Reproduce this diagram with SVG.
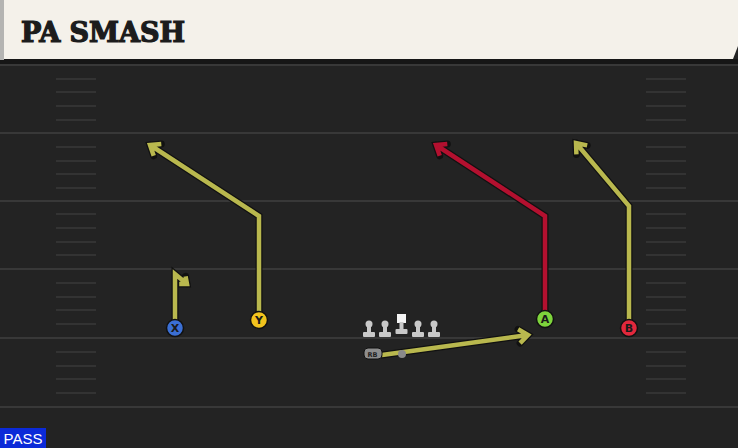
<svg xmlns="http://www.w3.org/2000/svg" width="738" height="448" viewBox="0 0 738 448">
<style>
.yl{stroke:#383838;stroke-width:2}
.hs{stroke:#333333;stroke-width:2}
.ol{fill:none;stroke:#111;stroke-width:7;stroke-linecap:round;stroke-linejoin:miter}
.ry{fill:none;stroke:#b9b84e;stroke-width:4.5;stroke-linejoin:miter}
.rr{fill:none;stroke:#b3102f;stroke-width:4.5;stroke-linejoin:miter}
.pl{stroke:#111;stroke-width:1.5}
.pt{font-family:"DejaVu Sans",sans-serif;font-weight:bold;font-size:11px;fill:#1a1a1a;text-anchor:middle}
.lm{fill:#c9c9c9}
</style>
<rect width="738" height="448" fill="#232323"/>
<g id="field">
<line class="yl" x1="0" y1="65" x2="738" y2="65"/>
<line class="yl" x1="0" y1="133" x2="738" y2="133"/>
<line class="yl" x1="0" y1="201" x2="738" y2="201"/>
<line class="yl" x1="0" y1="269" x2="738" y2="269"/>
<line class="yl" x1="0" y1="338" x2="738" y2="338"/>
<line class="yl" x1="0" y1="407" x2="738" y2="407"/>
<g class="hs">
<line x1="56" y1="79" x2="96" y2="79"/><line x1="56" y1="92" x2="96" y2="92"/><line x1="56" y1="106" x2="96" y2="106"/><line x1="56" y1="120" x2="96" y2="120"/>
<line x1="56" y1="147" x2="96" y2="147"/><line x1="56" y1="161" x2="96" y2="161"/><line x1="56" y1="174" x2="96" y2="174"/><line x1="56" y1="188" x2="96" y2="188"/>
<line x1="56" y1="214" x2="96" y2="214"/><line x1="56" y1="228" x2="96" y2="228"/><line x1="56" y1="242" x2="96" y2="242"/><line x1="56" y1="255" x2="96" y2="255"/>
<line x1="56" y1="283" x2="96" y2="283"/><line x1="56" y1="297" x2="96" y2="297"/><line x1="56" y1="310" x2="96" y2="310"/><line x1="56" y1="324" x2="96" y2="324"/>
<line x1="56" y1="352" x2="96" y2="352"/><line x1="56" y1="366" x2="96" y2="366"/><line x1="56" y1="379" x2="96" y2="379"/><line x1="56" y1="393" x2="96" y2="393"/>
<line x1="646" y1="79" x2="686" y2="79"/><line x1="646" y1="92" x2="686" y2="92"/><line x1="646" y1="106" x2="686" y2="106"/><line x1="646" y1="120" x2="686" y2="120"/>
<line x1="646" y1="147" x2="686" y2="147"/><line x1="646" y1="161" x2="686" y2="161"/><line x1="646" y1="174" x2="686" y2="174"/><line x1="646" y1="188" x2="686" y2="188"/>
<line x1="646" y1="214" x2="686" y2="214"/><line x1="646" y1="228" x2="686" y2="228"/><line x1="646" y1="242" x2="686" y2="242"/><line x1="646" y1="255" x2="686" y2="255"/>
<line x1="646" y1="283" x2="686" y2="283"/><line x1="646" y1="297" x2="686" y2="297"/><line x1="646" y1="310" x2="686" y2="310"/><line x1="646" y1="324" x2="686" y2="324"/>
<line x1="646" y1="352" x2="686" y2="352"/><line x1="646" y1="366" x2="686" y2="366"/><line x1="646" y1="379" x2="686" y2="379"/><line x1="646" y1="393" x2="686" y2="393"/>
</g>
</g>
<g id="header">
<rect x="0" y="59" width="738" height="5" fill="#161616"/>
<rect x="0" y="0" width="4" height="60" fill="#b4b4b2"/>
<polygon points="4,0 738,0 738,46 733,59 4,59" fill="#f4f1ea"/>
<text x="21" y="42" font-family="'DejaVu Serif Condensed','DejaVu Serif',serif" font-weight="bold" font-size="27" fill="#1c1c1c" stroke="#1c1c1c" stroke-width="1.2" textLength="164" lengthAdjust="spacingAndGlyphs">PA SMASH</text>
</g>
<g id="connectors">
<g id="route-x">
<path class="ol" d="M175,322 L175,274 L187,284 M185.6,276.4 L187,284 L179.2,284"/>
<path class="ry" d="M175,322 L175,274 L187,284 M185.6,276.4 L187,284 L179.2,284"/>
</g>
<g id="route-y">
<path class="ol" d="M259,314 L259,216 L150,145 M153.7,155.8 L150,145 L161.3,144"/>
<path class="ry" d="M259,314 L259,216 L150,145 M153.7,155.8 L150,145 L161.3,144"/>
</g>
<g id="route-a">
<path class="ol" d="M545,313 L545,216 L436,145 M439.7,155.8 L436,145 L447.3,144"/>
<path class="rr" d="M545,313 L545,216 L436,145 M439.7,155.8 L436,145 L447.3,144"/>
</g>
<g id="route-b">
<path class="ol" d="M629,322 L629,206 L576,143 M576.4,154.4 L576,143 L587.2,145.4"/>
<path class="ry" d="M629,322 L629,206 L576,143 M576.4,154.4 L576,143 L587.2,145.4"/>
</g>
<g id="route-rb">
<path class="ol" d="M382,355 L528,335 M520.1,343.1 L528,335 L518.1,329.3"/>
<path class="ry" d="M382,355 L528,335 M520.1,343.1 L528,335 L518.1,329.3"/>
</g>
</g>
<g id="line">
<g id="lt"><circle class="lm" cx="369" cy="324" r="3.5"/><rect class="lm" x="367" y="324" width="4" height="9"/><rect class="lm" x="363" y="332" width="12" height="5" rx="1"/></g>
<g id="lg"><circle class="lm" cx="385" cy="324" r="3.5"/><rect class="lm" x="383" y="324" width="4" height="9"/><rect class="lm" x="379" y="332" width="12" height="5" rx="1"/></g>
<g id="c"><rect x="397" y="314" width="9" height="9" fill="#f4f4f4"/><rect class="lm" x="399.5" y="322" width="4" height="8"/><rect class="lm" x="395.5" y="329" width="12" height="5" rx="1"/></g>
<g id="rg"><circle class="lm" cx="418" cy="324" r="3.5"/><rect class="lm" x="416" y="324" width="4" height="9"/><rect class="lm" x="412" y="332" width="12" height="5" rx="1"/></g>
<g id="rt"><circle class="lm" cx="434" cy="324" r="3.5"/><rect class="lm" x="432" y="324" width="4" height="9"/><rect class="lm" x="428" y="332" width="12" height="5" rx="1"/></g>
</g>
<g id="rb">
<rect x="364" y="348" width="18" height="11" rx="4" fill="#8d8d8d" stroke="#111" stroke-width="1"/>
<text x="372.5" y="356.5" font-family="'DejaVu Sans',sans-serif" font-size="6.5" font-weight="bold" fill="#222" text-anchor="middle">RB</text>
</g>
<g id="qb"><circle cx="402" cy="354" r="4" fill="#8a8a8a"/></g>
<g id="x"><circle class="pl" cx="175" cy="328" r="8.5" fill="#3b6fd4"/><text class="pt" x="175" y="332">X</text></g>
<g id="y"><circle class="pl" cx="259" cy="320" r="8.5" fill="#f2c31d"/><text class="pt" x="259" y="324">Y</text></g>
<g id="a"><circle class="pl" cx="545" cy="319" r="8.5" fill="#7ed43c"/><text class="pt" x="545" y="323">A</text></g>
<g id="b"><circle class="pl" cx="629" cy="328" r="8.5" fill="#e2283c"/><text class="pt" x="629" y="332">B</text></g>
<g id="pass">
<rect x="0" y="428" width="46" height="20" fill="#0b2ad8"/>
<text x="23" y="444" font-family="'Liberation Sans',sans-serif" font-size="15" fill="#fff" text-anchor="middle">PASS</text>
</g>
</svg>
